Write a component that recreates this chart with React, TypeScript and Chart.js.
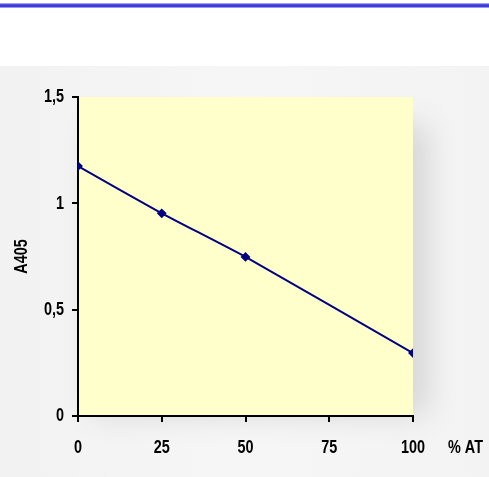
import React, { useEffect, useRef } from "react";
import { Chart, registerables } from "chart.js";

Chart.register(...registerables);

const atPercent = [0, 25, 50, 100];
const a405 = [1.175, 0.953, 0.748, 0.296];
const xTicks = [0, 25, 50, 75, 100];
const yTicks = [0, 0.5, 1, 1.5];
const yTickLabels = ["0", "0,5", "1", "1,5"];
const xAxisTitle = "% AT";
const yAxisTitle = "A405";

const FONT = '"Liberation Sans", Arial, sans-serif';
const FSIZE = 19;
const NARROW = 0.76;

function drawText(ctx: any, text: string, x: number, y: number, align: string, rotate = false) {
  ctx.save();
  ctx.translate(x, y);
  if (rotate) ctx.rotate(-Math.PI / 2);
  ctx.scale(NARROW, 1);
  ctx.font = `bold ${FSIZE}px ${FONT}`;
  ctx.fillStyle = "#000";
  ctx.textAlign = align;
  ctx.textBaseline = "middle";
  ctx.fillText(text, 0, 0);
  ctx.restore();
}

export default function App() {
  const ref = useRef<HTMLCanvasElement | null>(null);

  useEffect(() => {
    document.body.style.margin = "0";
    const canvas = ref.current;
    if (!canvas) return;

    const areaPlugin = {
      id: "areaBg",
      beforeDraw(chart: any) {
        const { ctx, chartArea } = chart;
        ctx.save();
        ctx.shadowColor = "rgba(0,0,0,0.13)";
        ctx.shadowBlur = 30;
        ctx.shadowOffsetX = 14;
        ctx.shadowOffsetY = 8;
        ctx.fillStyle = "#FFFFCC";
        ctx.fillRect(chartArea.left, chartArea.top + 20, chartArea.right - chartArea.left, chartArea.bottom - chartArea.top - 30);
        ctx.restore();
        ctx.save();
        ctx.fillStyle = "#FFFFCC";
        ctx.fillRect(chartArea.left, chartArea.top, chartArea.right - chartArea.left, chartArea.bottom - chartArea.top);
        ctx.restore();
      },
      afterDraw(chart: any) {
        const { ctx, chartArea, scales } = chart;
        const xs = scales.x;
        const ys = scales.y;
        const labelY = chartArea.bottom + 32;
        xTicks.forEach((v) => drawText(ctx, String(v), xs.getPixelForValue(v), labelY, "center"));
        yTicks.forEach((v, i) => drawText(ctx, yTickLabels[i], chartArea.left - 14, ys.getPixelForValue(v), "right"));
        drawText(ctx, xAxisTitle, chartArea.right + 35, labelY, "left");
        drawText(ctx, yAxisTitle, 22, (chartArea.top + chartArea.bottom) / 2, "center", true);
      },
    };

    const chart = new Chart(canvas, {
      type: "line",
      data: {
        datasets: [
          {
            data: atPercent.map((x, i) => ({ x, y: a405[i] })),
            borderColor: "#000080",
            backgroundColor: "#000080",
            borderWidth: 2,
            pointStyle: "rectRot",
            pointRadius: 3.5,
            pointHoverRadius: 3.5,
            tension: 0.15,
            fill: false,
          },
        ],
      },
      options: {
        animation: false,
        responsive: false,
        maintainAspectRatio: false,
        events: [],
        layout: { padding: { left: 0, right: 76, top: 97, bottom: 21 } },
        plugins: { legend: { display: false }, tooltip: { enabled: false } },
        scales: {
          x: {
            type: "linear",
            min: 0,
            max: 100,
            afterFit(scale: any) {
              scale.height = 40;
            },
            afterBuildTicks(scale: any) {
              scale.ticks = xTicks.map((v) => ({ value: v }));
            },
            border: { display: true, color: "#000", width: 2 },
            grid: { display: true, drawOnChartArea: false, drawTicks: true, tickLength: 6, color: "#000", lineWidth: 2 },
            ticks: { color: "rgba(0,0,0,0)", maxRotation: 0 },
          },
          y: {
            type: "linear",
            min: 0,
            max: 1.5,
            afterFit(scale: any) {
              scale.width = 78;
            },
            afterBuildTicks(scale: any) {
              scale.ticks = yTicks.map((v) => ({ value: v }));
            },
            border: { display: true, color: "#000", width: 2 },
            grid: { display: true, drawOnChartArea: false, drawTicks: true, tickLength: 6, color: "#000", lineWidth: 2 },
            ticks: { color: "rgba(0,0,0,0)" },
          },
        },
      },
      plugins: [areaPlugin],
    } as any);

    return () => chart.destroy();
  }, []);

  return (
    <div style={{ position: "absolute", left: 0, top: 0, width: 489, height: 477, background: "#fff", overflow: "hidden" }}>
      <div
        style={{
          position: "absolute",
          left: 0,
          top: 3,
          width: 489,
          height: 5,
          background: "linear-gradient(#c8c8f4, #3c3cdc 35%, #3c3cdc 70%, #c8c8f4)",
        }}
      />
      <div
        style={{
          position: "absolute",
          left: 0,
          top: 66,
          width: 489,
          height: 411,
          background: "linear-gradient(90deg, #f2f2f2, #f6f6f6 50%, #f3f3f3)",
        }}
      />
      <canvas ref={ref} width={489} height={477} style={{ position: "absolute", left: 0, top: 0, width: 489, height: 477 }} />
    </div>
  );
}
